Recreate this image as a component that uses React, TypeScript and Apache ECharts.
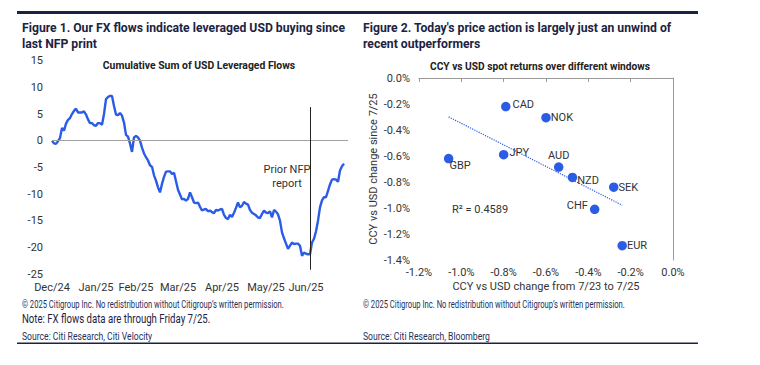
import React, { useEffect, useRef } from "react";
import * as echarts from "echarts";

// ---------- Figure 1 data ----------
const flowTickIdx = [0, 22, 42, 63, 85, 107, 127];
const flowTickLabels = ["Dec/24", "Jan/25", "Feb/25", "Mar/25", "Apr/25", "May/25", "Jun/25"];
const flowValues = [
  0, -0.5, -0.6, -0.1, 0.5, 2.4, 1.9, 3.2, 3.9, 4.25,
  5.0, 5.6, 6.0, 5.3, 5.3, 5.3, 5.5, 4.9, 4.0, 3.3,
  3.3, 2.9, 2.8, 3.3, 3.3, 3.0, 5.0, 7.8, 8.2, 8.4,
  8.4, 6.5, 4.9, 4.8, 5.2, 4.7, 3.4, 1.1, 0.75, -0.5,
  -2.1, 0.6, 0.9, 0.6, 0.0, -1.3, -2.4, -3.1, -3.7, -4.6,
  -4.9, -6.5, -7.5, -8.75, -9.7, -8.1, -6.8, -5.8, -5.75, -5.75,
  -6.25, -6.0, -7.6, -9.2, -10.1, -11.0, -10.9, -11.25, -10.9, -9.7,
  -10.6, -11.6, -11.7, -11.6, -12.4, -13.1, -12.9, -12.8, -13.25, -13.1,
  -13.4, -13.6, -13.0, -13.1, -12.9, -12.8, -13.9, -14.5, -14.7, -13.9,
  -14.3, -13.5, -12.6, -11.6, -12.5, -12.2, -11.5, -11.8, -12.0, -13.0,
  -13.5, -13.75, -14.0, -14.4, -14.5, -13.75, -13.1, -13.5, -13.6, -13.25,
  -14.4, -13.0, -13.3, -13.8, -15.0, -17.2, -18.3, -19.3, -20.3, -19.7,
  -19.1, -19.4, -19.3, -19.3, -19.7, -21.6, -21.0, -21.2, -21.3, -21.3,
  -19.1, -18.4, -17.0, -15.0, -12.5, -11.2, -10.6, -10.6, -9.4, -8.2,
  -7.3, -7.2, -7.3, -7.7, -5.6, -4.8, -4.3,
];
const flowAxisLength = 149;
const nfpIndex = 129;
const nfpLineTop = 6.3;
const nfpLineBottom = -24.2;
const flowYTicks = { min: -25, max: 15, step: 5 };

// ---------- Figure 2 data ----------
const ccyNames = ["CAD", "NOK", "GBP", "JPY", "AUD", "NZD", "SEK", "CHF", "EUR"];
const ccyChange2d = [-0.79, -0.6, -1.06, -0.8, -0.54, -0.475, -0.28, -0.37, -0.24];
const ccyChangeSince = [-0.22, -0.305, -0.62, -0.59, -0.685, -0.765, -0.84, -1.01, -1.29];
const rSquaredText = "R\u00B2 = 0.4589";

// ---------- text ----------
const title1 = "Figure 1. Our FX flows indicate leveraged USD buying since\nlast NFP print";
const title2 = "Figure 2. Today's price action is largely just an unwind of\nrecent outperformers";
const sub1 = "Cumulative Sum of USD Leveraged Flows";
const sub2 = "CCY vs USD spot returns over different windows";
const copyright = "\u00A9 2025 Citigroup Inc. No redistribution without Citigroup\u2019s written permission.";
const note1 = "Note: FX flows data are through Friday 7/25.";
const source1 = "Source: Citi Research, Citi Velocity";
const source2 = "Source: Citi Research, Bloomberg";
const nfpText = "Prior NFP\nreport";
const yName2 = "CCY vs USD change since 7/25";
const xName2 = "CCY vs USD change from 7/23 to 7/25";

// label placement (style only)
const labelPlace: Record<string, { pos: string; dx: number; dy: number }> = {
  CAD: { pos: "right", dx: 0, dy: -2 },
  NOK: { pos: "right", dx: -2, dy: 0 },
  GBP: { pos: "right", dx: -6, dy: 7 },
  JPY: { pos: "right", dx: -1, dy: -2 },
  AUD: { pos: "top", dx: 0, dy: 1 },
  NZD: { pos: "right", dx: -2, dy: 3 },
  SEK: { pos: "right", dx: -2, dy: 0 },
  CHF: { pos: "left", dx: 0, dy: -4 },
  EUR: { pos: "right", dx: -2, dy: 0 },
};

const BLUE = "#2b5ce6";
const NAVY = "#1c2342";
const FOOT = "#24305a";
const AXIS_TXT = "#333333";
const FONT = "Roboto, 'Liberation Sans', sans-serif";

function fitLine(xs: number[], ys: number[]) {
  const n = xs.length;
  const mx = xs.reduce((a, b) => a + b, 0) / n;
  const my = ys.reduce((a, b) => a + b, 0) / n;
  let sxy = 0;
  let sxx = 0;
  for (let i = 0; i < n; i++) {
    sxy += (xs[i] - mx) * (ys[i] - my);
    sxx += (xs[i] - mx) * (xs[i] - mx);
  }
  const slope = sxy / sxx;
  const icpt = my - slope * mx;
  const x0 = Math.min(...xs);
  const x1 = Math.max(...xs);
  return [
    [x0, icpt + slope * x0],
    [x1, icpt + slope * x1],
  ];
}

const pct = (v: number) => {
  const r = Math.round(v * 10) / 10;
  return (r === 0 ? 0 : r).toFixed(1) + "%";
};

export default function App() {
  const ref = useRef<HTMLDivElement>(null);

  useEffect(() => {
    if (!ref.current) return;
    const chart = echarts.init(ref.current, null, { renderer: "svg" });
    const categories = Array.from({ length: flowAxisLength }, (_, i) => String(i));

    const footText = (x: number, y: number, text: string, size: number, sx: number, fill: string) => ({
      type: "text",
      x,
      y,
      scaleX: sx,
      style: { text, fill, font: `${size}px ${FONT}`, verticalAlign: "middle" },
    });

    const option: any = {
      animation: false,
      backgroundColor: "#ffffff",
      textStyle: { fontFamily: FONT },
      grid: [
        { left: 52, right: 412, top: 60.7, bottom: 91 },
        { left: 419, right: 87, top: 78, bottom: 105 },
      ],
      xAxis: [
        {
          type: "category",
          gridIndex: 0,
          data: categories,
          boundaryGap: false,
          axisLine: { show: false },
          axisTick: { show: false },
          axisLabel: {
            interval: (index: number) => flowTickIdx.includes(index),
            formatter: (_v: string, index: number) => flowTickLabels[flowTickIdx.indexOf(index)] ?? "",
            color: AXIS_TXT,
            fontSize: 11,
            margin: 8,
            fontFamily: FONT,
          },
          splitLine: { show: false },
        },
        {
          type: "value",
          gridIndex: 1,
          min: -1.2,
          max: 0,
          interval: 0.2,
          axisLine: { show: false },
          axisTick: { show: false },
          splitLine: { show: false },
          axisLabel: { formatter: pct, color: AXIS_TXT, fontSize: 11, margin: 7, fontFamily: FONT },
          name: xName2,
          nameLocation: "middle",
          nameGap: 21,
          nameTextStyle: { color: AXIS_TXT, fontSize: 11, fontFamily: FONT },
        },
        {
          type: "value",
          gridIndex: 1,
          position: "top",
          min: -1.2,
          max: 0,
          interval: 0.2,
          axisLine: { show: true, onZero: false, lineStyle: { color: "#9a9a9a", width: 1 } },
          axisTick: { show: true, inside: true, length: 4, lineStyle: { color: "#9a9a9a" } },
          axisLabel: { show: false },
          splitLine: { show: false },
        },
      ],
      yAxis: [
        {
          type: "value",
          gridIndex: 0,
          min: flowYTicks.min,
          max: flowYTicks.max,
          interval: flowYTicks.step,
          axisLine: { show: false },
          axisTick: { show: false },
          splitLine: { show: false },
          axisLabel: { color: AXIS_TXT, fontSize: 11, margin: 9, fontFamily: FONT },
        },
        {
          type: "value",
          gridIndex: 1,
          min: -1.4,
          max: 0,
          interval: 0.2,
          axisLine: { show: false },
          axisTick: { show: false },
          splitLine: { show: false },
          axisLabel: { formatter: pct, color: AXIS_TXT, fontSize: 11, margin: 9, fontFamily: FONT },
          name: yName2,
          nameLocation: "middle",
          nameRotate: 90,
          nameGap: 40,
          nameTextStyle: { color: AXIS_TXT, fontSize: 11, fontFamily: FONT },
        },
        {
          type: "value",
          gridIndex: 1,
          position: "right",
          min: -1.4,
          max: 0,
          interval: 0.2,
          axisLine: { show: true, onZero: false, lineStyle: { color: "#9a9a9a", width: 1 } },
          axisTick: { show: false },
          axisLabel: { show: false },
          splitLine: { show: false },
        },
      ],
      series: [
        {
          type: "line",
          xAxisIndex: 0,
          yAxisIndex: 0,
          data: flowValues,
          showSymbol: false,
          symbol: "none",
          lineStyle: { color: BLUE, width: 2.4 },
          markLine: {
            silent: true,
            symbol: ["none", "none"],
            label: { show: false },
            data: [
              { yAxis: 0, lineStyle: { color: "#a0a0a0", width: 1, type: "solid" } },
              [
                { coord: [String(nfpIndex), nfpLineTop], lineStyle: { color: "#222222", width: 1, type: "solid" } },
                { coord: [String(nfpIndex), nfpLineBottom] },
              ],
            ],
          },
        },
        {
          type: "line",
          xAxisIndex: 1,
          yAxisIndex: 1,
          data: fitLine(ccyChange2d, ccyChangeSince),
          symbol: "none",
          lineStyle: { color: BLUE, width: 1.2, type: "dotted" },
          z: 1,
        },
        {
          type: "scatter",
          xAxisIndex: 1,
          yAxisIndex: 1,
          symbolSize: 9.5,
          itemStyle: { color: BLUE, opacity: 1 },
          z: 3,
          data: ccyNames.map((n, i) => {
            const p = labelPlace[n];
            return {
              name: n,
              value: [ccyChange2d[i], ccyChangeSince[i]],
              label: {
                show: true,
                formatter: n,
                position: p.pos,
                distance: 2,
                offset: [p.dx, p.dy],
                color: AXIS_TXT,
                fontSize: 11,
                fontFamily: FONT,
              },
            };
          }),
        },
      ],
      graphic: [
        { type: "rect", silent: true, shape: { x: 17, y: 11, width: 681, height: 3 }, style: { fill: NAVY } },
        { type: "rect", silent: true, shape: { x: 17, y: 342.5, width: 681, height: 1.6 }, style: { fill: NAVY } },
        {
          type: "text", x: 22, y: 20,
          style: { text: title1, fill: NAVY, font: `bold 12.2px ${FONT}`, lineHeight: 16, verticalAlign: "top" },
        },
        {
          type: "text", x: 363, y: 20,
          style: { text: title2, fill: NAVY, font: `bold 12.2px ${FONT}`, lineHeight: 16, verticalAlign: "top" },
        },
        {
          type: "text", x: 199, y: 65,
          style: { text: sub1, fill: "#222222", font: `bold 10.4px ${FONT}`, align: "center", verticalAlign: "middle" },
        },
        {
          type: "text", x: 540, y: 66,
          style: { text: sub2, fill: "#222222", font: `bold 10.2px ${FONT}`, align: "center", verticalAlign: "middle" },
        },
        {
          type: "text", x: 287, y: 176,
          style: { text: nfpText, fill: "#333333", font: `11px ${FONT}`, align: "center", verticalAlign: "middle", lineHeight: 14 },
        },
        {
          type: "text", x: 452, y: 209,
          style: { text: rSquaredText, fill: "#333333", font: `11px ${FONT}`, verticalAlign: "middle" },
        },
        footText(22, 305, copyright, 10, 0.763, FOOT),
        footText(363, 305, copyright, 10, 0.763, FOOT),
        footText(22, 319.5, note1, 12.5, 0.77, NAVY),
        footText(22, 336, source1, 10.5, 0.82, FOOT),
        footText(363, 336, source2, 10.5, 0.82, FOOT),
      ],
    };

    chart.setOption(option);
    return () => chart.dispose();
  }, []);

  return (
    <div
      ref={ref}
      style={{ position: "fixed", left: 0, top: 0, width: 760, height: 365, background: "#ffffff" }}
    />
  );
}
